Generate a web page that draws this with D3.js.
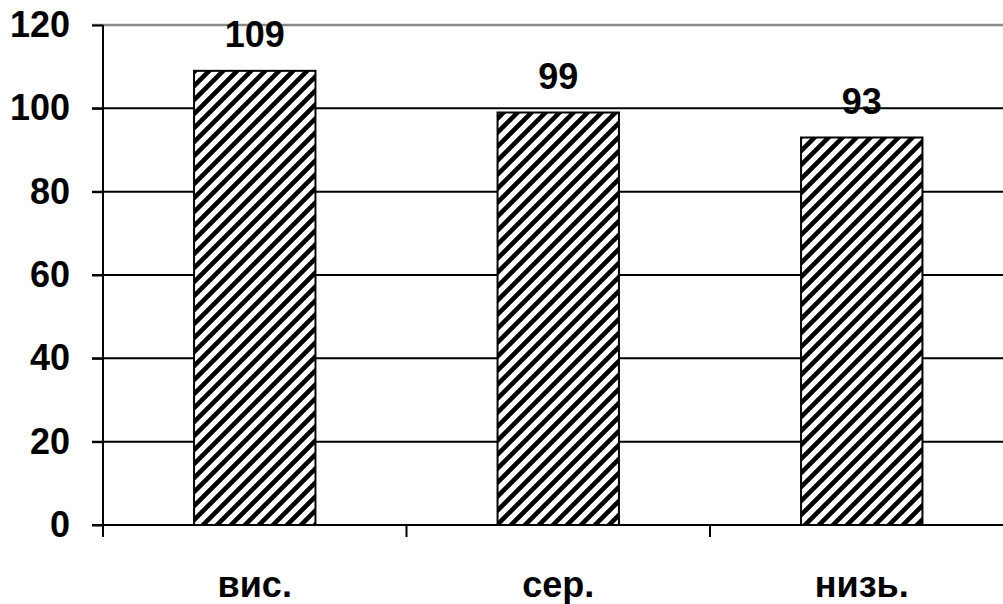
<!DOCTYPE html>
<html>
<head>
<meta charset="utf-8">
<script src="https://cdn.jsdelivr.net/npm/d3@7"></script>
<style>
  html, body { margin: 0; padding: 0; background: #fff; }
  svg { display: block; }
  text { font-family: "Liberation Sans", Arial, sans-serif; font-weight: bold; fill: #000; }
</style>
</head>
<body>
<svg id="chart" width="1003" height="604"></svg>
<script>
const categories = ["вис.", "сер.", "низь."];
const values = [109, 99, 93];
const yTicks = [0, 20, 40, 60, 80, 100, 120];

const W = 1003, H = 604;
const svg = d3.select("#chart");

const x = d3.scaleBand()
  .domain(categories)
  .range([103, 1013.5])
  .paddingInner(0.6)
  .paddingOuter(0.3);

const y = d3.scaleLinear().domain([0, 120]).range([525, 25]);

// hatch pattern
const defs = svg.append("defs");
const T = 14;
const pat = defs.append("pattern")
  .attr("id", "hatch")
  .attr("patternUnits", "userSpaceOnUse")
  .attr("width", T).attr("height", T);
pat.append("rect").attr("width", T).attr("height", T).attr("fill", "#fff");
pat.append("path")
  .attr("d", `M${-T/4},${T+T/4} L${T+T/4},${-T/4} M${-T*0.75},${T*0.75} L${T*0.75},${-T*0.75} M${T/4},${T*1.75} L${T*1.75},${T/4}`)
  .attr("stroke", "#000")
  .attr("stroke-width", 4.6);

// gridlines
svg.append("g").selectAll("line")
  .data(yTicks.filter(d => d > 0))
  .join("line")
  .attr("x1", 92).attr("x2", W)
  .attr("y1", d => y(d)).attr("y2", d => y(d))
  .attr("stroke", d => d === 120 ? "#8a8a8a" : "#000")
  .attr("stroke-width", d => d === 120 ? 2.5 : 2);

// y axis
const yAxis = svg.append("g")
  .attr("transform", "translate(103,0)")
  .call(d3.axisLeft(y).tickValues(yTicks).tickSize(11).tickPadding(22).tickFormat(d3.format("d")));
yAxis.select(".domain").remove();
yAxis.selectAll(".tick line").attr("stroke", "#000").attr("stroke-width", 2);
yAxis.selectAll(".tick text")
  .attr("font-size", 36)
  .attr("font-family", "Liberation Sans, Arial, sans-serif")
  .attr("font-weight", "bold")
  .attr("fill", "#000");
svg.append("line")
  .attr("x1", 103).attr("x2", 103)
  .attr("y1", y(120)).attr("y2", y(0))
  .attr("stroke", "#000").attr("stroke-width", 2);

// bars
svg.append("g").selectAll("rect")
  .data(values)
  .join("rect")
  .attr("x", (d, i) => x(categories[i]))
  .attr("y", d => y(d))
  .attr("width", x.bandwidth())
  .attr("height", d => y(0) - y(d))
  .attr("fill", "url(#hatch)")
  .attr("stroke", "#000")
  .attr("stroke-width", 2);

// x axis line
svg.append("line")
  .attr("x1", 92).attr("x2", W)
  .attr("y1", y(0)).attr("y2", y(0))
  .attr("stroke", "#000").attr("stroke-width", 2);

// x ticks at band boundaries
const step = x.step();
const boundaries = d3.range(categories.length + 1).map(i => x.range()[0] + i * step);
svg.append("g").selectAll("line")
  .data(boundaries)
  .join("line")
  .attr("x1", d => d).attr("x2", d => d)
  .attr("y1", y(0)).attr("y2", y(0) + 12)
  .attr("stroke", "#000").attr("stroke-width", 2);

// category labels
svg.append("g").selectAll("text")
  .data(categories)
  .join("text")
  .attr("x", d => x(d) + x.bandwidth() / 2)
  .attr("y", 597)
  .attr("text-anchor", "middle")
  .attr("font-size", 36)
  .text(d => d);

// value labels
svg.append("g").selectAll("text")
  .data(values)
  .join("text")
  .attr("x", (d, i) => x(categories[i]) + x.bandwidth() / 2)
  .attr("y", d => y(d) - 24)
  .attr("text-anchor", "middle")
  .attr("font-size", 36)
  .text(d => d);
</script>
</body>
</html>
